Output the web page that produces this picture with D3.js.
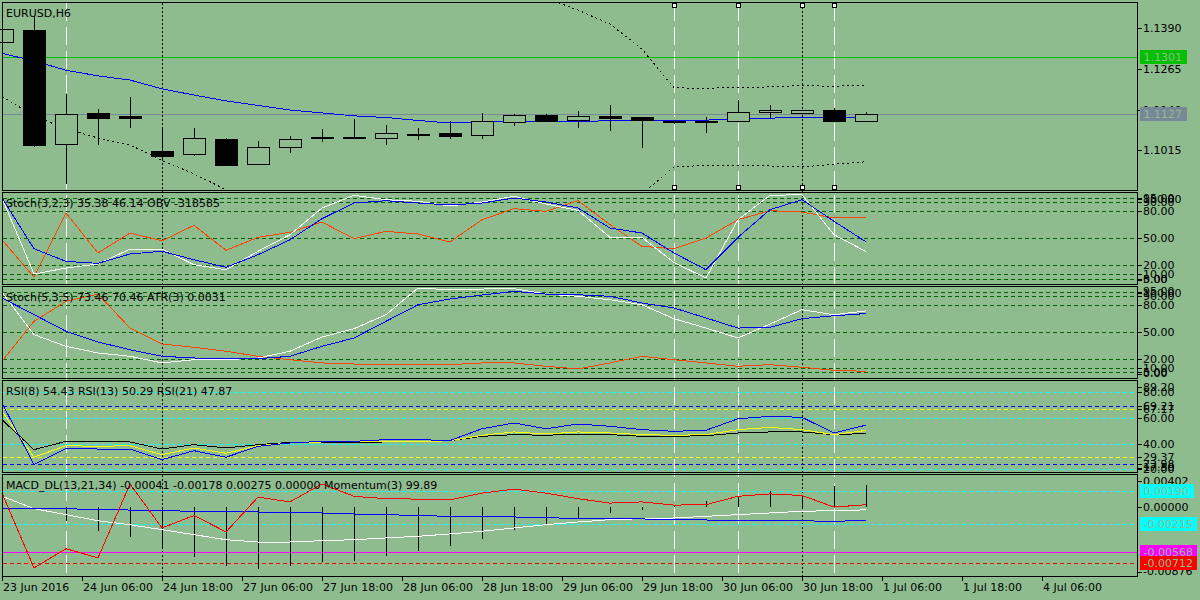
<!DOCTYPE html>
<html lang="en">
<head>
<meta charset="UTF-8">
<title>EURUSD,H6</title>
<style>
  body { margin: 0; background: #8fbc8f; }
  svg { display: block; font-family: "DejaVu Sans", sans-serif; font-size: 11px; shape-rendering: crispEdges; }
</style>
<script src="https://d3js.org/d3.v7.min.js"></script>
</head>
<body>
<script>
// ---- data (28 H6 bars) ----
var tickLabels = ["23 Jun 2016", "24 Jun 06:00", "24 Jun 18:00", "27 Jun 06:00", "27 Jun 18:00",
  "28 Jun 06:00", "28 Jun 18:00", "29 Jun 06:00", "29 Jun 18:00", "30 Jun 06:00",
  "30 Jun 18:00", "1 Jul 06:00", "1 Jul 18:00", "4 Jul 06:00"];

var open  = [1.1346,1.1385,1.1034,1.1130,1.1121,1.1013,1.1003,1.1050,1.0974,1.1025,1.1056,1.1056,1.1052,1.1066,
             1.1068,1.1060,1.1104,1.1124,1.1107,1.1121,1.1118,1.1105,1.1105,1.1104,1.1132,1.1128,1.1139,1.1107];
var high  = [1.1392,1.1428,1.1187,1.1142,1.1179,1.1083,1.1084,1.1053,1.1044,1.1059,1.1081,1.1111,1.1093,1.1084,
             1.1104,1.1130,1.1127,1.1128,1.1136,1.1154,1.1118,1.1109,1.1118,1.1170,1.1154,1.1140,1.1144,1.1132];
var low   = [1.1340,1.1026,1.0912,1.1033,1.1085,1.0982,1.0999,1.0971,1.0971,1.1008,1.1042,1.1049,1.1032,1.1047,
             1.1051,1.1051,1.1090,1.1105,1.1084,1.1075,1.1023,1.1095,1.1069,1.1104,1.1115,1.1127,1.1101,1.1103];
var close = [1.1387,1.1033,1.1126,1.1115,1.1115,1.0999,1.1052,1.0971,1.1025,1.1049,1.1052,1.1052,1.1068,1.1065,
             1.1060,1.1104,1.1124,1.1105,1.1120,1.1115,1.1109,1.1103,1.1103,1.1132,1.1138,1.1138,1.1106,1.1127];

var maLine    = [1.1313,1.1290,1.1261,1.1244,1.1231,1.1204,1.1185,1.1167,1.1153,1.1139,1.1130,1.1121,1.1116,1.1107,
                 1.1099,1.1102,1.1104,1.1104,1.1104,1.1106,1.1106,1.1106,1.1108,1.1111,1.1114,1.1117,1.1117,1.1117];
var bandUpper = [1.1661,1.1692,1.1716,1.1735,1.1747,1.1753,1.1760,1.1760,1.1753,1.1741,1.1723,1.1698,1.1667,1.1630,
                 1.1594,1.1554,1.1514,1.1483,1.1446,1.1403,1.1326,1.1207,1.1206,1.1208,1.1210,1.1214,1.1212,1.1215];
var bandLower = [1.1181,1.1121,1.1081,1.1053,1.1032,1.0984,1.0943,1.0894,1.0847,1.0807,1.0777,1.0758,1.0746,1.0740,
                 1.0740,1.0746,1.0758,1.0777,1.0807,1.0844,1.0881,1.0964,1.0969,1.0970,1.0967,1.0964,1.0973,1.0980];
var priceTicks = [1.1390, 1.1265, 1.1140, 1.1015];
var priceMarks = [{ value: 1.1301, color: "#00c000" }, { value: 1.1127, color: "#778899" }];

var stoch1Main   = [94.8,10.3,17,21.4,38.1,38.1,20.7,15.1,35.6,54,83.7,97.8,92.9,91.1,85.9,90.3,96.7,88.1,81.1,51.1,51.1,23.1,5.9,70.7,97.8,98.4,54,35.4];
var stoch1Signal = [94.8,38.4,24.4,22.2,32.6,35.6,26.2,17.8,31.8,48.4,71.8,89.2,91.8,89.2,87,89.2,94.8,90.3,83.7,61.4,55.9,33.7,15.1,51.1,81.8,92.9,68.9,46.1];
var obvScaled    = [48.4,6.7,78.1,33.7,55.9,47.3,64.4,36.7,51.1,56.7,68.1,49.6,57.8,54.8,45.9,70.7,82.9,80,91.8,65.1,41.1,38.4,50.3,70.7,80.7,79.2,72.6,73.3];

var stoch2Main   = [94.4,47,34.1,26.7,23,15.6,19.2,19.2,21.1,28.6,44.4,53.7,69.2,98.9,97,97.8,98.1,92.2,89.7,85.9,80.3,64.8,54.4,43.3,58.9,74.8,69.2,73.5];
var stoch2Signal = [87.8,69.4,50.8,38.9,30.3,23,21.1,20.3,20.3,23,34.1,43.3,61.9,80.3,86.7,91.1,95.2,92.2,91.4,89.7,82.2,76.7,65.6,54.4,55.2,64.8,68.1,70.5];
var atrScaled    = [17.4,61.9,84.1,92.2,54.4,36.7,33,28.6,23,19.2,15.6,14.4,14.1,13.9,13.7,15.6,15.6,11.9,8.9,15.6,23,19.2,15.6,11.9,13.7,10.8,7.4,6.3];
var stochLevels  = [95, 90, 80, 50, 20, 10, 5];

var rsi8  = [71.7,23.6,36.1,35.8,35.8,27.5,34.5,29.4,37.9,40.5,41.8,41.8,43.1,43.1,42.4,51.6,56.1,51.6,55.3,53.5,50.9,49.6,50.4,59.4,61.3,60.5,48.3,54.4];
var rsi13 = [65.2,29.4,38.4,37.9,38.4,31.4,36.6,32.5,38.4,40.5,41.3,41.3,41.3,41.3,42.3,46.5,49.1,47.5,49.1,48.3,47,46.5,47,50.9,52.7,50.9,47,50.3];
var rsi21 = [58.6,35.3,41.8,41.3,41.3,35.8,39.2,36.6,39.2,41,41,41,41.3,41.3,42.3,45.7,47,46.5,47.5,47,45.7,45.7,46.2,48.3,49.1,49.1,47,47.9];
var rsiCyanLevels   = [80, 60, 40, 20];
var rsiBlueLevels   = [69.21, 23.98];
var rsiYellowLevels = [67.17, 29.37];

var macdMain   = [0.00129,-0.00026,-0.00101,-0.00177,-0.00227,-0.00289,-0.00352,-0.00415,-0.00444,-0.00444,-0.00427,-0.00415,-0.00393,-0.00372,
                  -0.00343,-0.00309,-0.00268,-0.00227,-0.00193,-0.00164,-0.00152,-0.00143,-0.00122,-0.00101,-0.0008,-0.00059,-0.00051,-0.00041];
var macdSignal = [-0.00026,-0.00026,-0.00026,-0.00039,-0.00043,-0.00051,-0.00059,-0.00061,-0.00068,-0.00074,-0.0008,-0.00093,-0.00101,-0.00112,
                  -0.00122,-0.00122,-0.0013,-0.00139,-0.00149,-0.00152,-0.00155,-0.00162,-0.00168,-0.00175,-0.00177,-0.0018,-0.00182,-0.00178];
var macdHist   = [0,0,-0.00177,-0.00302,-0.00381,-0.00519,-0.00632,-0.00748,-0.00778,-0.00748,-0.00698,-0.00685,-0.00615,-0.00553,
                  -0.00497,-0.00402,-0.00289,-0.00227,-0.00143,-0.0008,-0.00039,0.00024,0.00066,0.00129,0.00192,0.00149,0.00254,0.00275];
var momentum   = [100.18,98.31,98.79,98.56,100.41,99.31,99.62,99.21,100.08,99.96,100.41,100.1,100.04,100.03,
                  100.01,100.18,100.28,100.18,100.04,99.93,99.96,99.88,99.89,100.1,100.16,100.12,99.83,99.89];
var macdMarks  = [{ value: 0.0019, color: "#00ffff" }, { value: -0.00215, color: "#00ffff" },
                  { value: -0.00568, color: "#ff00ff" }, { value: -0.00712, color: "#ff0000" }];

var whiteVLines = [2, 21, 23, 26];
var blackVLines = [5, 25];
var handleBars  = [21, 23, 25, 26];

// ---- layout ----
var bg = "#8fbc8f";
var L = 2.5, R = 1137.5;
var panelBox = [[2.5, 190.5], [192.5, 284.5], [286.5, 378.5], [380.5, 472.5], [474.5, 576.5]];

var svg = d3.select("body").append("svg").attr("width", 1200).attr("height", 600);
svg.append("rect").attr("width", 1200).attr("height", 600).attr("fill", bg);

var x = d3.scaleLinear().domain([0, 27]).range([2, 866]);
var xp = function (i) { return Math.round(x(i)) + 0.5; };
var px = function (v) { return Math.round(v) + 0.5; };

function panel(k, domain) {
  var top = panelBox[k][0], bot = panelBox[k][1];
  svg.append("clipPath").attr("id", "clip" + k).append("rect")
    .attr("x", 0).attr("y", top).attr("width", R).attr("height", bot - top);
  var g = svg.append("g").attr("clip-path", "url(#clip" + k + ")");
  var y = d3.scaleLinear().domain(domain).range([bot, top]);
  return { g: g, y: y, top: top, bot: bot };
}

function hline(p, v, color, dash) {
  p.g.append("line").attr("x1", L).attr("x2", R).attr("y1", px(p.y(v))).attr("y2", px(p.y(v)))
    .attr("stroke", color).attr("stroke-dasharray", dash || null);
}

function series(p, values, color, dash) {
  var line = d3.line().x(function (d, i) { return x(i); }).y(function (d) { return p.y(d); });
  p.g.append("path").attr("d", line(values)).attr("fill", "none")
    .attr("stroke", color).attr("stroke-dasharray", dash || null);
}

function axisLabel(yy, text) {
  svg.append("line").attr("x1", R).attr("x2", R + 4).attr("y1", px(yy)).attr("y2", px(yy)).attr("stroke", "#000");
  svg.append("text").attr("x", R + 5.5).attr("y", yy).attr("dy", "0.36em").text(text);
}

function boxLabel(yy, text, color) {
  var g = svg.append("g");
  var r = g.append("rect").attr("x", 1140).attr("y", Math.round(yy) - 7).attr("height", 14).attr("fill", color);
  var t = g.append("text").attr("x", 1143.5).attr("y", yy).attr("dy", "0.36em").attr("fill", bg).text(text);
  r.attr("width", t.node().getComputedTextLength() + 8);
}

function header(p, text) {
  svg.append("text").attr("x", 6).attr("y", p.top + 14).text(text);
}

// ---- vertical marker lines across all panels ----
whiteVLines.forEach(function (i) {
  svg.append("line").attr("x1", xp(i)).attr("x2", xp(i)).attr("y1", 3).attr("y2", 576)
    .attr("stroke", "#fff").attr("stroke-dasharray", "18,6");
});
blackVLines.forEach(function (i) {
  svg.append("line").attr("x1", xp(i)).attr("x2", xp(i)).attr("y1", 3).attr("y2", 582)
    .attr("stroke", "#000").attr("stroke-dasharray", "2,2");
});

// ---- price panel ----
var p0 = panel(0, [1.08918, 1.14692]);
priceMarks.forEach(function (m) { hline(p0, m.value, m.color); });
series(p0, bandUpper, "#000", "2,3");
series(p0, bandLower, "#000", "2,3");
series(p0, maLine, "#0000ff");

var candle = p0.g.selectAll("g.c").data(d3.range(open.length)).enter().append("g");
candle.append("line")
  .attr("x1", function (i) { return xp(i); }).attr("x2", function (i) { return xp(i); })
  .attr("y1", function (i) { return p0.y(high[i]); }).attr("y2", function (i) { return p0.y(low[i]); })
  .attr("stroke", "#000");
candle.append("rect")
  .attr("x", function (i) { return xp(i) - 11; }).attr("width", 22)
  .attr("y", function (i) { return px(p0.y(Math.max(open[i], close[i]))); })
  .attr("height", function (i) { return Math.max(1, Math.round(Math.abs(p0.y(open[i]) - p0.y(close[i])))); })
  .attr("fill", function (i) { return close[i] < open[i] ? "#000" : bg; })
  .attr("stroke", "#000");

handleBars.forEach(function (i) {
  [5, 187].forEach(function (yy) {
    svg.append("rect").attr("x", xp(i) - 2).attr("y", yy - 2).attr("width", 4).attr("height", 4)
      .attr("fill", "#fff").attr("stroke", "#000");
  });
});
header(p0, "EURUSD,H6");
priceTicks.forEach(function (v) { axisLabel(p0.y(v), v.toFixed(4)); });
priceMarks.forEach(function (m) { boxLabel(p0.y(m.value), m.value.toFixed(4), m.color); });

// ---- stochastic panels ----
function stochPanel(k, domain, main, signal, extra, title) {
  var p = panel(k, domain);
  stochLevels.forEach(function (v) { hline(p, v, "#006400", "4,3"); });
  series(p, extra, "#ff4500");
  series(p, main, "#ffffff");
  series(p, signal, "#0000ff");
  header(p, title);
  stochLevels.forEach(function (v) { axisLabel(p.y(v), v.toFixed(2)); });
  axisLabel(p.top + 6.5, "100.00");
  axisLabel(p.bot - 5, "0.00");
  return p;
}
stochPanel(1, [-1.3, 100.9], stoch1Main, stoch1Signal, obvScaled, "Stoch(3,2,3) 35.38 46.14 OBV -318585");
stochPanel(2, [-1.7, 100.6], stoch2Main, stoch2Signal, atrScaled, "Stoch(5,3,5) 73.46 70.46 ATR(3) 0.0031");

// ---- RSI panel ----
var p3 = panel(3, [17.5, 89.2]);
rsiCyanLevels.forEach(function (v) { hline(p3, v, "#00ffff", "4,3"); });
rsiBlueLevels.forEach(function (v) { hline(p3, v, "#0000ff", "4,3"); });
rsiYellowLevels.forEach(function (v) { hline(p3, v, "#ffff00", "4,3"); });
series(p3, rsi21, "#000000");
series(p3, rsi13, "#ffff00");
series(p3, rsi8, "#0000ff");
header(p3, "RSI(8) 54.43 RSI(13) 50.29 RSI(21) 47.87");
rsiCyanLevels.concat(rsiBlueLevels, rsiYellowLevels).forEach(function (v) { axisLabel(p3.y(v), v.toFixed(2)); });
axisLabel(p3.top + 6.5, "89.20");
axisLabel(p3.bot - 5, "17.50");

// ---- MACD + momentum panel ----
var p4 = panel(4, [-0.00876, 0.00402]);
var mom = d3.scaleLinear().domain([98.095, 100.645]).range([p4.bot, p4.top]);
hline(p4, 0.0019, "#00ffff", "4,3");
hline(p4, -0.00215, "#00ffff", "4,3");
hline(p4, -0.00568, "#ff00ff");
hline(p4, -0.00712, "#ff0000", "4,3");
p4.g.selectAll("line.h").data(macdHist).enter().append("line")
  .attr("x1", function (d, i) { return xp(i); }).attr("x2", function (d, i) { return xp(i); })
  .attr("y1", p4.y(0)).attr("y2", function (d) { return p4.y(d); })
  .attr("stroke", "#000");
series(p4, macdMain, "#ffffff");
series(p4, macdSignal, "#0000ff");
p4.g.append("path")
  .attr("d", d3.line().x(function (d, i) { return x(i); }).y(function (d) { return mom(d); })(momentum))
  .attr("fill", "none").attr("stroke", "#ff0000");
header(p4, "MACD_DL(13,21,34) -0.00041 -0.00178 0.00275 0.00000 Momentum(3) 99.89");
axisLabel(p4.top + 6.5, "0.00402");
axisLabel(p4.y(0), "0.00000");
axisLabel(p4.bot - 5, "-0.00876");
macdMarks.forEach(function (m) { boxLabel(p4.y(m.value), m.value.toFixed(5), m.color); });

// ---- panel frames ----
panelBox.forEach(function (b) {
  svg.append("rect").attr("x", L).attr("y", b[0]).attr("width", R - L).attr("height", b[1] - b[0])
    .attr("fill", "none").attr("stroke", "#000");
});

// ---- time axis ----
var tickStep = 2.5;
tickLabels.forEach(function (t, k) {
  var xx = xp(k * tickStep);
  svg.append("line").attr("x1", xx).attr("x2", xx).attr("y1", 576.5).attr("y2", 581).attr("stroke", "#000");
  svg.append("text").attr("x", xx + 0.5).attr("y", 591).text(t);
});
</script>
</body>
</html>
